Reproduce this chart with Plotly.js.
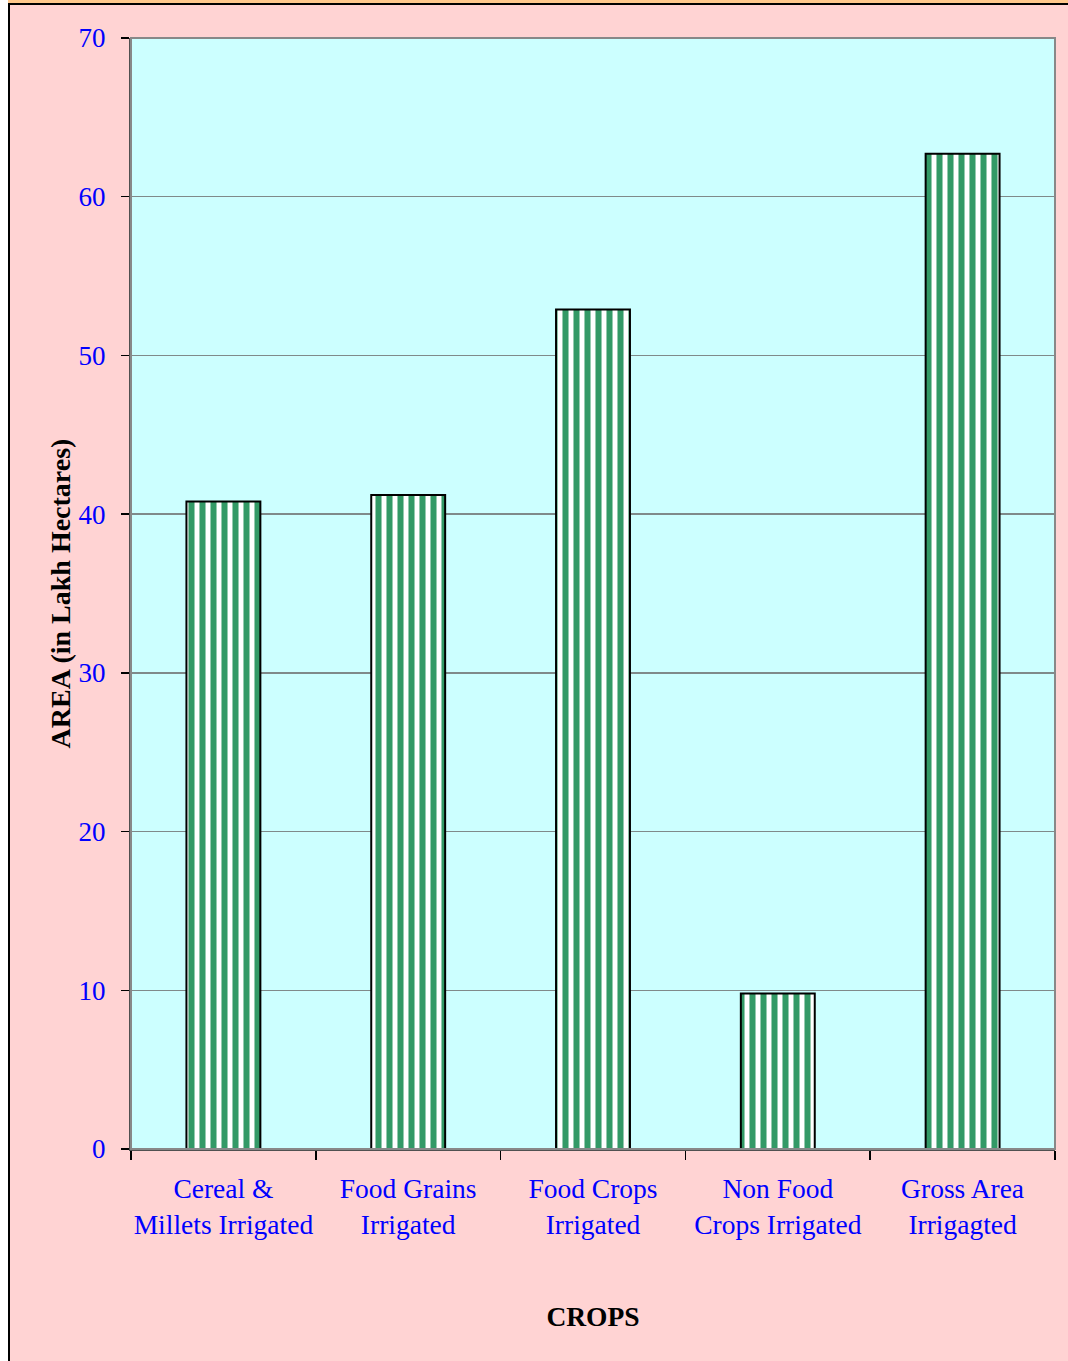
<!DOCTYPE html>
<html>
<head>
<meta charset="utf-8">
<script src="https://cdn.plot.ly/plotly-3.0.1.min.js"></script>
<style>
  html, body { margin: 0; padding: 0; background: #ffffff; overflow: hidden; }
  #wrap { position: relative; width: 1068px; height: 1361px; overflow: hidden; }
  #chart { position: absolute; left: 0; top: 0; width: 1068px; height: 1361px; }
  .deco { position: absolute; pointer-events: none; }
</style>
</head>
<body>
<div id="wrap">
  <div id="chart"></div>
  <div class="deco" style="left:0;top:0;width:1068px;height:3px;background:#FFC88C;"></div>
  <div class="deco" style="left:0;top:0;width:8px;height:1361px;background:#ffffff;"></div>
  <div class="deco" style="left:8px;top:3px;width:1060px;height:2px;background:#000000;"></div>
  <div class="deco" style="left:8px;top:3px;width:2px;height:1358px;background:#000000;"></div>
</div>
<script>
const categories = ["Cereal &<br>Millets Irrigated", "Food Grains<br>Irrigated", "Food Crops<br>Irrigated", "Non Food<br>Crops Irrigated", "Gross Area<br>Irrigagted"];
const areaValues = [40.8, 41.2, 52.9, 9.8, 62.7];
const yTickValues = [0, 10, 20, 30, 40, 50, 60, 70];

const trace = {
  type: "bar",
  x: categories,
  y: areaValues,
  marker: {
    color: "#ffffff",
    line: { color: "#000000", width: 2 },
    pattern: { shape: "|", fgcolor: "#339966", bgcolor: "#ffffff", fgopacity: 1, size: 11, solidity: 0.55, fillmode: "replace" }
  },
  hoverinfo: "x+y"
};

const layout = {
  width: 1068,
  height: 1361,
  paper_bgcolor: "#FFD3D3",
  plot_bgcolor: "#CCFFFF",
  margin: { l: 131, r: 13, t: 38, b: 212 },
  bargap: 0.6,
  showlegend: false,
  font: { family: "Liberation Serif, Times New Roman, serif" },
  xaxis: {
    type: "category",
    tickson: "boundaries",
    tickangle: 0,
    ticks: "outside",
    ticklen: 9,
    tickwidth: 1.5,
    tickcolor: "#000000",
    ticklabelstandoff: 14,
    tickfont: { family: "Liberation Serif", size: 27.5, color: "#0000FF" },
    showline: true,
    linecolor: "#505050",
    linewidth: 2,
    mirror: false,
    showgrid: false,
    title: { text: "<b>CROPS</b>", font: { family: "Liberation Serif", size: 27.5, color: "#000000" }, standoff: 68 },
    automargin: false
  },
  yaxis: {
    range: [0, 70],
    tickvals: yTickValues,
    ticks: "outside",
    ticklen: 8,
    tickwidth: 1.5,
    tickcolor: "#000000",
    ticklabelstandoff: 10,
    tickfont: { family: "Liberation Serif", size: 27, color: "#0000FF" },
    showline: true,
    linecolor: "#505050",
    linewidth: 2,
    mirror: false,
    showgrid: true,
    gridcolor: "#7f8a8a",
    gridwidth: 1.3,
    zeroline: false,
    title: { text: "<b>AREA (in Lakh Hectares)</b>", font: { family: "Liberation Serif", size: 28, color: "#000000" }, standoff: 0 },
    automargin: false
  },
  shapes: [
    { type: "rect", xref: "paper", yref: "paper", x0: 0, x1: 1, y0: 0, y1: 1, line: { color: "#888888", width: 2 }, fillcolor: "rgba(0,0,0,0)", layer: "above" }
  ]
};

Plotly.newPlot("chart", [trace], layout, { displayModeBar: false, staticPlot: true });
</script>
</body>
</html>
